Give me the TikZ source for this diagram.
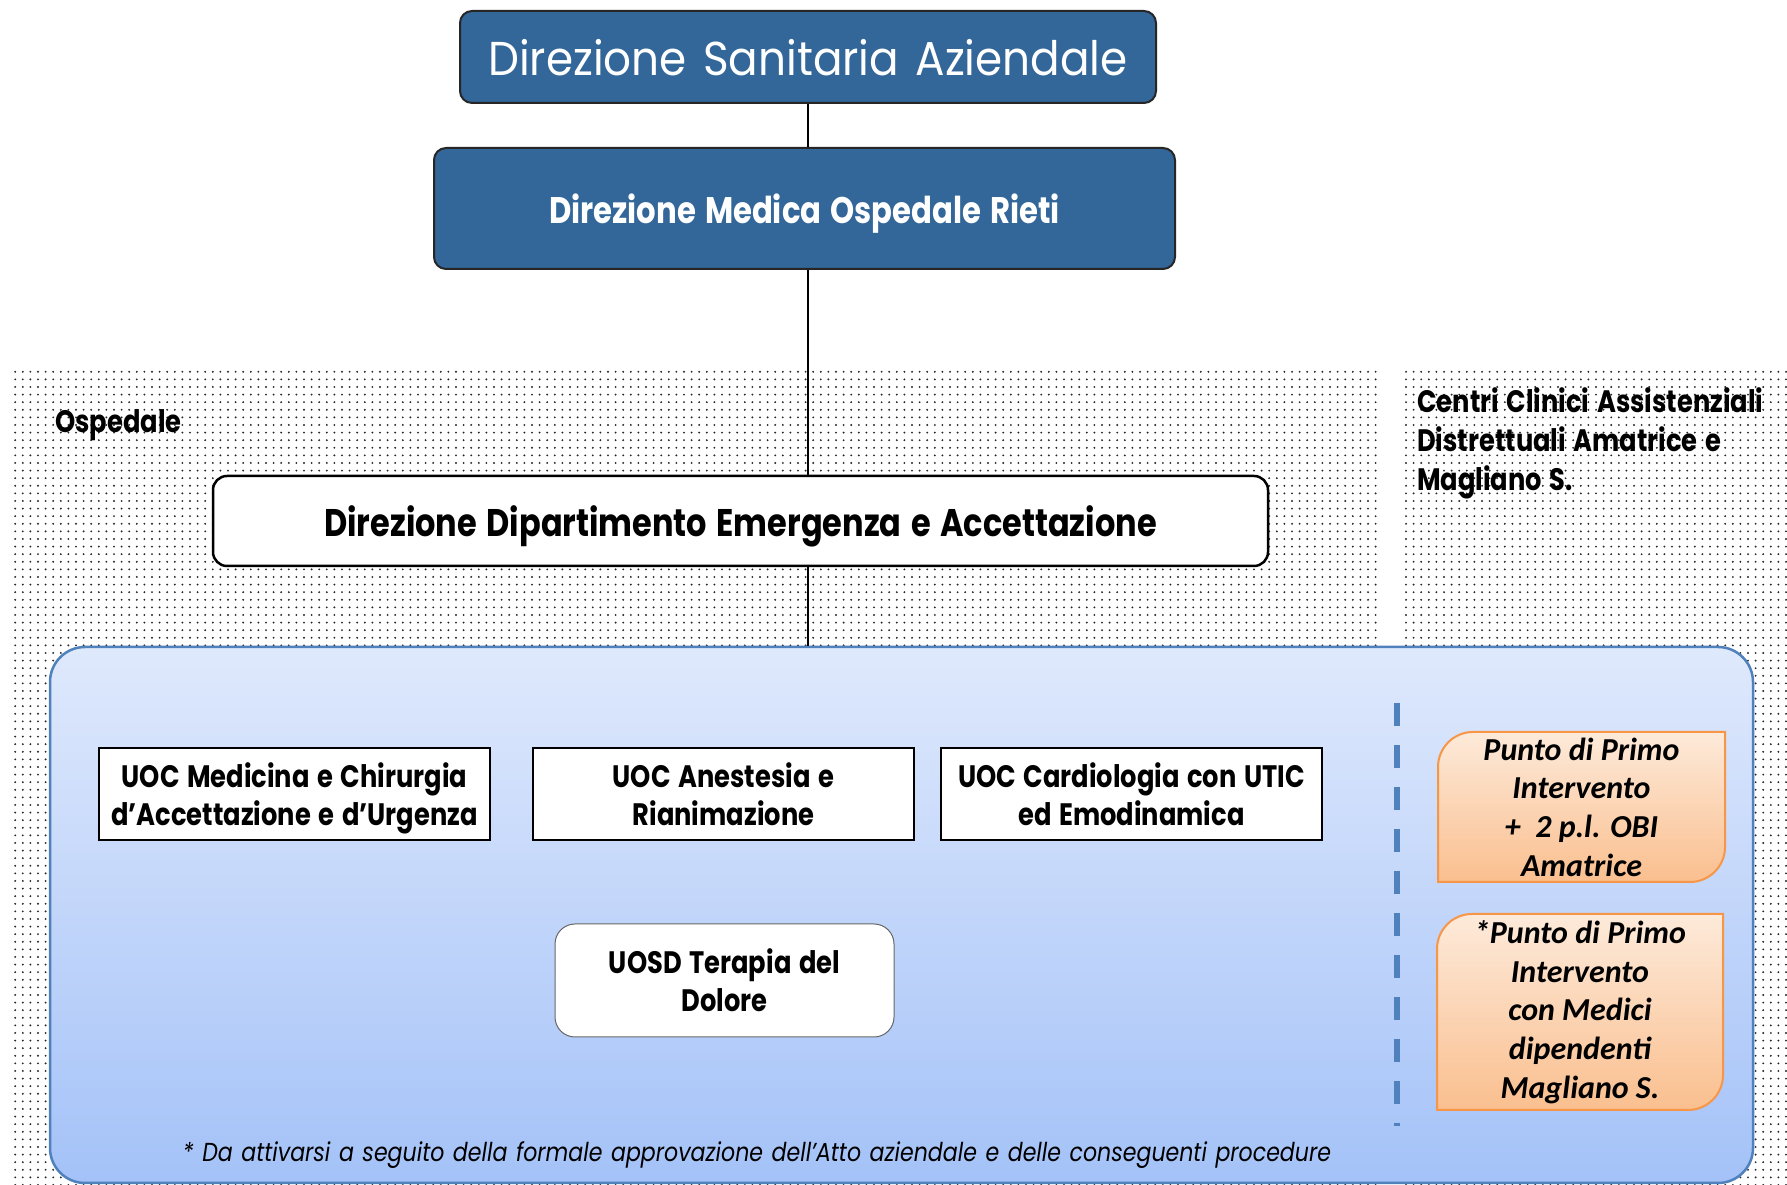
\documentclass[tikz,border=0pt]{standalone}
\usepackage{fontspec}
\newfontfamily\fut[FakeStretch=0.83,WordSpace=1.4]{Poppins}
\newfontfamily\futwide[FakeStretch=0.92,WordSpace=1.4]{Poppins}
\newfontfamily\futnote[FakeStretch=0.85,WordSpace=1.3]{Poppins}
\newfontfamily\calib{Carlito}
\usetikzlibrary{patterns.meta}
\definecolor{darkblue}{RGB}{51,102,153}
\definecolor{bluebord}{RGB}{79,129,189}
\definecolor{bluetop}{RGB}{223,233,252}
\definecolor{bluebot}{RGB}{164,194,248}
\definecolor{orgtop}{RGB}{253,234,218}
\definecolor{orgbot}{RGB}{250,191,143}
\definecolor{orgbord}{RGB}{247,150,70}
\tikzdeclarepattern{
  name=dotgrid,
  type=uncolored,
  bottom left={(-3.8pt,-3.8pt)},
  top right={(3.8pt,3.8pt)},
  tile size={(7.6pt,7.6pt)},
  code={\pgfpathcircle{\pgfpointorigin}{1.05pt}\pgfusepath{fill}}
}
\tikzset{
  dotted area/.style={pattern=dotgrid, pattern color=black!85},
  topbox/.style={draw=black!85, line width=2pt, fill=darkblue, rounded corners=12pt, text=white,
     inner sep=0pt, text depth=0pt},
  deabox/.style={draw=black, line width=2.5pt, fill=white, rounded corners=14pt, inner sep=0pt,
     text depth=0pt},
  uocbox/.style={draw=black, line width=2.5pt, fill=white, inner sep=0pt, align=center,
     minimum height=92pt, text depth=0pt, font=\fut\bfseries\fontsize{31}{38}\selectfont},
  uosdbox/.style={draw=black!60, line width=1pt, fill=white, rounded corners=20pt, inner sep=0pt,
     align=center, font=\fut\bfseries\fontsize{31}{38}\selectfont},
  bluebox/.style={draw=bluebord, line width=2.5pt, top color=bluetop, bottom color=bluebot,
     rounded corners=35pt, inner sep=0pt},
  orgshape/.style={draw=orgbord, line width=2pt, top color=orgtop, bottom color=orgbot},
  orgtext/.style={align=center, inner sep=0pt, font=\calib\bfseries\itshape\fontsize{32}{38.7}\selectfont},
  conn/.style={line width=2pt, black},
  dashline/.style={bluebord, line width=6pt, dash pattern=on 23pt off 19pt},
  lbl/.style={inner sep=0pt, font=\fut\bfseries\fontsize{31}{39}\selectfont}
}
\begin{document}
\begin{tikzpicture}[x=1pt,y=1pt]
\useasboundingbox (0,0) rectangle (1787,1185);
\fill[white] (0,0) rectangle (1787,1185);
% dotted background areas
\fill[dotted area] (14,0) rectangle (1377,817);
\fill[dotted area] (1405,0) rectangle (1787,817);

% top boxes
\node[topbox, minimum width=696pt, minimum height=92pt, text height=37pt,
      font=\futwide\fontsize{47.5}{56}\selectfont] (n1) at (808,1128) {Direzione Sanitaria Aziendale};
\node[topbox, minimum width=741pt, minimum height=121pt, text height=30pt,
      font=\fut\bfseries\fontsize{37}{44}\selectfont] (n2) at (804.5,976.5) {Direzione Medica Ospedale Rieti};

% labels
\node[lbl, anchor=west] (osp) at (55,760) {Ospedale};
\node[lbl, anchor=west, align=left] (ccad) at (1417,742) {Centri Clinici Assistenziali\\Distrettuali Amatrice e\\Magliano S.};

% DEA
\node[deabox, minimum width=1055pt, minimum height=90pt, text height=31pt,
      font=\fut\bfseries\fontsize{38.5}{46}\selectfont] (dea) at (740.5,664) {Direzione Dipartimento Emergenza e Accettazione};

% blue container
\node[bluebox, minimum width=1703pt, minimum height=536pt] (blue) at (901.5,270) {};

% connectors
\draw[conn] (n1.south) -- (n1.south |- n2.north);
\draw[conn] (n1.south |- n2.south) -- (n1.south |- dea.north);
\draw[conn] (n1.south |- dea.south) -- (n1.south |- blue.north);

% UOC boxes
\node[uocbox, minimum width=391pt] (uoc1) at (294.5,391) {UOC Medicina e Chirurgia\\d’Accettazione e d’Urgenza};
\node[uocbox, minimum width=381pt] (uoc2) at (723.5,391) {UOC Anestesia e\\Rianimazione};
\node[uocbox, minimum width=381pt] (uoc3) at (1131.5,391) {UOC Cardiologia con UTIC\\ed Emodinamica};
\node[uosdbox, minimum width=339pt, minimum height=113pt] (uosd) at (724.5,204.5) {UOSD Terapia del\\Dolore};

% dashed separator
\draw[dashline] (1397,482) -- (1397,59);

% orange boxes
\draw[orgshape] (1438,303) -- (1438,418) arc[start angle=180, end angle=90, radius=35] -- (1725,453)
   -- (1725,338) arc[start angle=0, end angle=-90, radius=35] -- cycle;
\node[orgtext] (o1) at (1581.5,378) {Punto di Primo\\Intervento\\+~~2 p.l. OBI\\Amatrice};
\draw[orgshape] (1437,75) -- (1437,236) arc[start angle=180, end angle=90, radius=35] -- (1723,271)
   -- (1723,110) arc[start angle=0, end angle=-90, radius=35] -- cycle;
\node[orgtext] (o2) at (1580,173) {*Punto di Primo\\Intervento\\con Medici\\dipendenti\\Magliano S.};

% footnote
\node[inner sep=0pt, font=\futnote\itshape\fontsize{26}{30}\selectfont] (note) at (757,30)
  {* Da attivarsi a seguito della formale approvazione dell’Atto aziendale e delle conseguenti procedure};
\end{tikzpicture}
\end{document}
